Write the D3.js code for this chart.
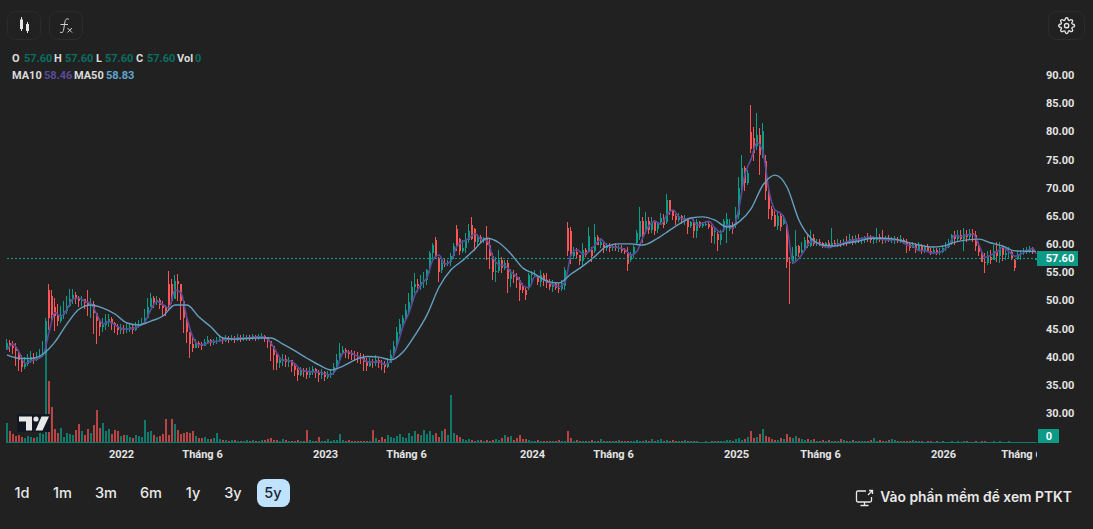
<!DOCTYPE html>
<html lang="vi">
<head>
<meta charset="utf-8">
<title>Biểu đồ giá</title>
<script src="https://cdn.jsdelivr.net/npm/d3@7/dist/d3.min.js"></script>
<style>
  html, body { margin: 0; padding: 0; background: #212121; overflow: hidden; }
  svg { display: block; font-family: Inter, "Noto Sans", sans-serif; }
  .axis text { fill: #e4e4e4; font-size: 11px; font-weight: 700; font-family: Roboto, sans-serif; }
</style>
</head>
<body>
<svg id="chart" width="1093" height="529"></svg>
<script>
// Sessions sampled across five years, oldest first.
const opens = [
  41.8,42.6,42.0,41.8,41.0,39.6,38.4,38.9,39.5,40.2,39.6,39.9,40.4,40.8,52.0,51.0,49.0,47.4,46.5,47.6,
  48.2,49.2,50.5,51.2,50.6,50.0,50.4,49.7,49.4,49.6,48.0,46.5,45.5,45.8,46.5,46.8,46.2,45.6,45.0,45.2,
  45.0,45.2,45.4,45.0,45.6,45.8,46.2,47.0,49.0,50.6,49.8,50.2,49.4,48.8,53.0,53.0,50.4,53.6,53.0,50.0,
  47.0,44.5,42.5,41.8,42.6,42.4,42.0,42.8,43.2,42.6,42.8,43.0,43.4,43.0,43.4,43.2,43.5,43.2,43.6,43.4,
  43.5,43.6,43.5,43.8,43.5,43.7,43.9,43.6,43.0,42.0,40.4,39.0,39.5,39.8,39.2,39.5,38.6,37.8,37.0,37.8,
  37.4,37.0,37.6,37.9,37.2,36.9,37.4,36.6,37.0,37.2,38.4,39.6,40.9,41.3,41.0,40.7,40.5,40.3,40.1,39.9,
  39.3,38.6,39.2,39.0,39.6,39.0,38.8,38.4,39.0,40.5,42.0,44.5,46.0,47.0,48.5,49.8,52.5,53.0,52.8,53.4,
  53.8,56.0,58.6,60.8,57.6,55.6,56.8,56.6,56.9,58.1,62.8,61.0,59.0,59.4,60.8,63.6,62.8,60.6,61.4,60.8,
  61.2,60.0,58.0,55.2,55.4,57.4,56.0,56.8,54.0,54.8,54.4,53.8,52.6,52.0,52.4,54.6,54.8,54.4,53.4,54.6,
  53.8,53.2,52.6,53.0,52.4,52.2,52.8,63.0,62.4,58.0,58.8,58.2,57.2,59.2,58.8,59.2,59.0,61.4,60.0,60.0,
  59.4,59.8,59.4,59.8,59.4,59.4,59.0,58.8,57.4,58.2,60.4,61.4,64.2,62.8,64.2,62.6,64.0,62.8,64.0,64.8,
  64.0,68.0,66.0,65.2,64.4,65.2,64.4,64.6,63.4,64.0,62.4,64.0,63.4,63.8,63.8,63.2,62.4,62.0,60.8,62.6,
  63.2,62.8,63.6,63.6,65.4,70.2,73.6,71.0,80.0,79.0,77.6,79.6,76.0,75.0,69.6,66.4,65.4,63.4,65.2,63.8,
  63.6,57.0,57.0,58.0,59.8,58.6,59.2,60.8,59.8,61.2,60.2,60.6,60.4,59.8,60.4,59.8,60.4,59.9,60.4,60.2,
  60.6,60.4,61.0,60.6,61.2,60.8,61.0,61.4,61.2,60.8,60.8,61.4,61.2,61.0,61.2,60.8,60.8,61.0,60.8,60.9,
  60.6,60.2,59.4,60.0,59.2,59.8,59.0,59.8,59.0,58.6,59.2,58.6,58.8,59.4,59.6,60.4,61.8,61.0,61.8,61.0,
  62.0,61.4,62.2,61.8,59.8,58.8,57.0,56.8,57.8,57.4,59.0,58.0,59.6,58.2,58.6,58.8,57.4,57.6,58.4,58.6,
  58.8,59.0,59.2,57.6
];
const highs = [
  43.4,43.2,43.0,42.6,41.4,40.4,40.2,40.6,41.2,40.8,41.0,41.6,43.0,47.0,53.0,52.0,50.6,49.6,49.2,50.0,
  51.0,52.2,52.2,51.6,51.0,51.0,50.4,52.0,50.6,50.0,47.4,46.8,47.0,47.8,47.8,47.2,46.4,46.0,46.0,45.8,
  46.0,46.2,46.0,46.4,46.6,47.0,48.6,50.6,51.4,51.0,51.0,50.6,50.0,49.4,55.4,54.0,54.6,54.8,52.6,48.6,
  47.0,44.6,43.6,43.4,43.0,42.8,43.4,43.8,43.4,43.4,43.6,44.0,43.6,44.0,43.8,44.0,43.8,44.2,44.0,44.2,
  44.0,44.0,44.2,44.0,44.2,44.4,44.0,43.6,43.0,42.0,40.6,40.2,40.6,40.4,40.2,39.4,38.8,38.2,38.4,38.2,
  38.2,38.4,38.6,38.2,37.8,38.0,37.6,37.6,38.0,39.0,40.6,42.6,42.0,41.8,41.4,41.4,41.2,41.0,40.8,40.6,
  40.0,40.0,39.8,40.4,40.0,39.6,39.4,40.0,41.4,43.0,45.4,46.8,47.6,49.6,51.4,53.6,55.0,54.0,54.6,55.2,
  55.8,59.0,60.3,61.5,57.8,57.3,57.6,57.3,58.5,60.3,63.5,61.2,60.9,62.1,63.8,65.0,63.0,62.0,61.8,61.5,
  63.3,61.2,58.5,57.9,59.1,57.9,57.3,57.3,55.8,55.6,55.0,54.4,53.2,52.3,55.0,55.3,55.6,54.7,55.5,55.0,
  55.0,54.0,53.8,53.4,53.2,53.8,56.1,64.0,63.2,59.7,59.4,58.0,60.3,59.4,63.2,59.7,63.8,61.8,61.2,60.3,
  60.4,60.3,60.2,60.3,60.0,60.0,59.5,59.7,58.8,60.0,62.6,66.8,65.0,65.9,65.0,65.0,64.4,64.0,65.6,65.5,
  69.0,67.7,66.2,65.5,65.6,65.3,65.3,64.7,64.2,64.6,64.7,64.2,64.0,64.2,64.0,63.5,63.0,62.3,62.6,64.7,
  65.6,64.6,64.0,66.8,72.0,76.0,74.0,73.3,84.8,81.0,83.4,80.7,81.7,76.0,70.3,67.0,66.0,65.8,65.5,65.3,
  64.0,57.9,59.6,62.6,60.0,60.5,61.4,61.8,62.6,62.0,61.0,61.0,60.6,60.6,60.8,63.0,60.8,61.0,60.8,61.0,
  61.6,62.0,61.6,61.8,62.0,61.4,61.6,62.2,61.8,61.6,63.1,62.0,62.6,61.6,61.8,61.4,61.6,61.4,61.8,61.2,
  61.0,60.4,60.6,60.4,60.6,60.2,60.0,60.2,59.4,59.6,59.4,59.4,60.0,60.6,61.0,62.0,62.4,62.6,62.6,63.1,
  62.6,62.8,62.8,62.4,60.6,59.0,58.5,59.0,59.2,60.0,60.6,60.6,60.0,59.4,59.6,59.0,57.6,59.0,59.2,59.4,
  59.6,59.8,59.6,57.6
];
const lows = [
  41.4,41.0,40.6,38.6,37.6,37.4,38.0,38.6,39.0,38.8,39.4,39.8,40.2,40.6,45.0,46.5,44.8,45.6,46.2,46.8,
  47.8,49.0,49.6,49.6,49.0,49.2,48.6,47.4,47.0,44.2,42.4,43.8,44.6,45.0,45.4,45.0,44.4,44.0,44.2,44.2,
  44.4,44.6,44.2,44.8,45.2,45.6,46.2,47.4,49.2,48.8,49.4,48.6,47.4,47.4,48.2,49.6,50.4,50.0,46.6,44.4,
  42.6,40.0,41.0,41.8,41.8,41.4,42.0,42.4,42.0,42.2,42.4,42.8,42.4,42.8,42.6,43.0,42.6,43.0,42.8,43.0,
  43.0,43.0,43.2,43.0,43.2,43.4,42.8,41.8,39.4,37.8,37.8,38.2,38.6,38.4,38.4,37.4,36.8,35.8,36.8,36.6,
  36.2,36.4,37.0,36.4,35.6,36.2,35.8,36.2,36.4,37.0,38.2,39.6,40.4,40.0,39.8,39.6,39.4,39.0,38.8,37.6,
  37.6,38.4,38.2,38.6,38.2,37.8,37.2,38.2,39.0,40.4,42.0,44.2,45.6,46.6,47.8,49.0,51.4,51.6,52.0,52.4,
  52.9,55.0,57.3,57.6,53.5,55.0,56.1,56.2,56.2,57.6,59.0,58.2,58.5,58.5,60.3,60.9,59.0,59.7,60.3,60.3,
  57.3,55.8,53.8,53.5,55.0,55.0,55.6,51.4,52.6,53.2,52.3,50.1,51.4,50.3,52.0,52.9,54.4,52.9,52.6,52.8,
  52.4,52.0,51.6,52.0,51.4,51.8,52.0,58.0,56.7,57.6,57.6,56.4,56.4,57.9,58.5,57.0,58.5,60.0,59.4,58.5,
  59.0,58.8,59.0,58.9,58.7,58.5,58.4,55.3,56.9,57.7,60.0,60.9,60.3,62.0,62.0,62.1,61.8,62.2,63.8,63.0,
  63.8,65.3,64.4,63.5,64.1,63.8,63.5,62.0,63.0,61.2,61.2,63.0,63.0,63.4,62.8,60.3,60.2,59.0,60.0,62.3,
  60.3,62.4,62.0,63.0,64.6,69.0,69.5,70.6,76.3,75.0,76.9,72.4,75.4,68.0,64.7,64.5,63.2,62.6,62.4,63.5,
  56.0,49.6,56.7,57.2,57.9,58.5,59.0,59.4,59.7,59.8,59.8,59.8,59.4,59.4,59.4,59.4,59.6,59.6,59.6,59.8,
  59.8,60.2,60.0,60.2,60.4,60.2,60.4,60.6,60.4,60.2,60.4,60.6,60.2,60.4,60.6,60.4,60.2,60.4,60.4,60.2,
  58.6,59.0,59.4,58.6,59.0,58.4,58.6,58.8,58.2,58.4,58.2,58.2,58.6,59.0,59.4,60.0,60.0,60.6,60.8,59.0,
  60.6,61.0,60.6,59.0,58.0,57.0,55.0,56.4,56.6,57.4,57.0,56.8,57.2,57.4,57.6,57.4,55.3,57.4,57.4,58.2,
  58.4,58.6,58.4,57.6
];
const closes = [
  42.6,42.0,41.8,41.2,39.6,38.4,38.9,39.5,40.1,39.6,39.9,40.4,40.8,46.5,47.0,47.5,47.4,46.5,47.6,48.2,
  49.2,50.5,51.2,50.6,50.0,50.4,49.7,49.4,49.6,48.0,46.5,45.5,45.8,46.5,46.8,46.2,45.6,45.0,45.2,45.0,
  45.2,45.4,45.0,45.6,45.8,46.2,47.0,49.0,50.6,49.8,50.2,49.4,48.8,48.2,49.4,50.0,53.6,53.0,50.0,47.0,
  44.5,42.5,41.8,42.6,42.4,42.0,42.8,43.2,42.6,42.8,43.0,43.4,43.0,43.4,43.2,43.5,43.2,43.6,43.4,43.5,
  43.6,43.5,43.8,43.5,43.7,43.9,43.6,43.0,42.0,40.4,39.0,39.5,39.8,39.2,39.5,38.6,37.8,37.0,37.8,37.4,
  37.0,37.6,37.9,37.2,36.9,37.4,36.6,37.0,37.2,38.4,39.6,40.9,41.3,41.0,40.7,40.5,40.3,40.1,39.9,39.3,
  38.6,39.2,39.0,39.6,39.0,38.8,38.4,39.0,40.5,42.0,44.5,46.0,47.0,48.5,49.8,52.5,53.0,52.8,53.4,53.8,
  55.6,58.6,60.0,58.0,55.2,56.8,56.4,57.0,58.1,59.8,59.8,59.0,59.4,60.8,62.4,61.0,60.6,61.4,60.8,61.2,
  60.0,58.0,55.2,55.4,57.4,56.0,56.8,54.0,54.8,54.4,53.8,52.0,52.0,51.2,54.6,54.8,54.8,53.4,54.6,53.8,
  53.2,52.6,53.0,52.4,52.2,53.2,55.6,59.0,58.0,58.8,58.2,57.2,59.2,58.2,61.6,58.0,61.4,60.0,60.6,59.4,
  59.8,59.4,59.8,59.4,59.4,59.0,58.8,56.6,58.2,59.6,62.2,64.2,61.6,64.2,62.6,64.0,62.4,63.8,64.8,63.6,
  68.0,66.0,65.2,64.4,65.2,64.4,64.6,63.2,64.0,62.4,64.0,63.4,63.8,63.8,63.2,61.6,62.4,60.8,62.0,64.2,
  64.6,63.6,62.8,65.4,70.2,73.6,71.0,72.8,77.0,76.4,79.6,76.0,80.2,69.6,66.4,65.2,63.4,65.2,63.2,64.8,
  57.0,56.8,58.0,59.8,58.6,59.2,60.8,59.8,61.2,60.2,60.6,60.4,59.8,60.4,59.8,60.4,59.9,60.4,60.2,60.6,
  60.4,61.0,60.6,61.2,60.8,61.0,61.4,61.2,60.8,61.2,61.4,61.2,61.0,61.2,60.8,61.0,61.0,60.8,61.0,60.6,
  60.2,59.4,60.0,59.2,59.8,59.0,59.8,59.0,58.6,59.2,58.6,58.8,59.4,59.6,60.4,61.8,61.0,61.8,61.0,62.0,
  61.4,62.2,61.8,59.8,58.8,57.0,56.8,57.8,57.4,59.0,58.0,59.6,58.2,58.6,58.8,57.6,56.0,58.4,58.6,58.8,
  59.0,59.2,58.8,57.6
];
// Traded volume per session, in hundred-thousand shares.
const volumes = [
  20,12,9,7,8,6,5,7,6,5,6,10,9,92,62,36,14,10,15,6,
  10,9,8,13,19,12,8,14,10,18,33,15,20,12,14,9,13,12,7,8,
  8,6,5,8,7,6,23,11,12,8,6,7,9,24,8,24,19,13,9,10,
  11,10,12,7,5,5,6,4,4,5,10,4,3,3,2,3,3,2,2,2,
  3,2,3,2,2,3,3,4,5,3,3,2,4,3,2,2,2,3,2,2,
  13,3,2,2,6,2,2,4,2,3,3,9,3,2,3,2,2,2,2,2,
  2,2,13,5,3,6,4,8,6,5,7,9,6,5,10,7,12,9,8,13,
  9,12,8,10,6,12,14,8,48,10,8,6,4,3,4,3,2,3,3,2,
  3,2,3,4,3,5,8,6,7,3,5,8,4,4,3,2,2,3,2,2,
  2,2,2,2,3,2,2,12,5,2,3,2,2,2,2,3,2,2,4,2,
  2,2,2,2,3,2,2,2,2,2,3,2,2,3,2,4,2,3,4,2,
  3,2,3,2,2,2,3,2,2,2,2,1,1,2,1,2,2,2,2,2,
  3,3,2,4,5,3,4,6,12,5,6,9,14,7,6,4,3,3,5,4,
  9,6,5,7,5,4,3,4,3,4,2,2,3,2,3,2,2,2,4,3,
  2,2,3,2,2,2,2,2,3,5,2,3,2,2,3,4,3,2,2,2,
  2,2,3,2,2,2,1,2,2,1,2,1,2,1,1,2,1,2,1,2,
  2,1,1,2,1,2,2,1,1,2,1,2,1,1,2,1,1,1,1,1,
  1,1,1,0
];
// MA10 readings, taken every second session plus the latest one.
const ma10 = [
  41.4,42.4,41.0,39.0,39.4,39.8,40.4,44.5,48.0,47.4,
  48.6,50.4,50.6,50.0,49.6,47.6,46.0,46.4,45.8,45.2,
  45.1,45.2,45.6,46.4,48.6,50.0,49.4,48.8,52.0,51.5,
  47.0,43.6,42.3,42.4,42.8,42.9,43.1,43.3,43.4,43.5,
  43.5,43.6,43.7,43.6,42.6,40.8,39.5,39.5,38.9,37.8,
  37.6,37.5,37.4,37.1,37.0,38.2,40.8,41.0,40.5,40.0,
  39.3,39.2,39.3,38.8,39.4,42.0,45.6,48.0,51.2,53.0,
  54.2,57.4,58.2,56.6,57.2,59.8,60.6,61.2,62.0,61.0,
  60.8,57.8,56.5,56.3,55.2,54.4,52.8,52.4,54.4,54.2,
  53.5,53.0,52.6,53.4,58.2,59.2,58.4,58.8,60.0,61.0,
  59.9,59.7,59.5,59.2,58.2,58.9,61.4,63.4,64.2,63.7,
  65.4,66.2,65.0,64.6,64.8,63.5,63.9,64.2,63.0,62.2,
  63.6,63.0,66.6,72.6,75.2,78.2,76.5,69.6,66.2,65.6,
  63.4,56.8,57.6,59.2,60.6,60.4,59.8,59.5,60.0,60.2,
  60.6,60.9,61.0,61.3,61.4,61.2,61.0,60.9,60.9,60.7,
  60.0,59.8,59.0,59.0,58.6,58.6,59.0,60.0,61.7,61.5,
  61.8,61.9,60.0,57.8,58.2,58.8,59.6,58.8,58.0,58.4,
  59.0,59.4,58.46
];
// MA50 readings, taken every fourth session plus the latest one.
const ma50 = [
  40.5,39.9,39.85,40.65,42.8,46.0,48.6,49.35,48.8,47.75,
  46.15,45.8,46.5,47.4,49.35,49.35,47.2,45.45,43.5,43.3,
  43.4,43.5,43.5,42.4,41.2,39.9,38.7,37.8,38.5,39.6,
  40.2,40.1,39.6,41.0,44.0,47.6,52.5,55.6,57.3,59.3,
  61.2,60.4,58.4,55.9,54.85,53.6,53.25,54.85,56.3,58.0,
  59.8,60.2,60.2,60.0,60.9,62.3,63.7,64.8,65.0,64.4,
  63.2,64.1,66.4,70.65,72.4,70.3,64.4,61.2,60.0,59.8,
  60.35,60.7,61.2,61.2,61.05,60.5,60.0,59.65,59.8,60.5,
  60.9,61.05,60.35,59.8,58.95,58.9,58.83
];
const priceTicks = [90, 85, 80, 75, 70, 65, 60, 55, 50, 45, 40, 35, 30];
const timeTickBars = [38, 65, 106, 133, 175, 202, 243, 271, 312, 338];
const timeTickLabels = ["2022", "Tháng 6", "2023", "Tháng 6", "2024", "Tháng 6", "2025", "Tháng 6", "2026", "Tháng 6"];
const rangeLabels = ["1d", "1m", "3m", "6m", "1y", "3y", "5y"];
const lastPrice = 57.60;

const UP = "#089e88", DOWN = "#ff5558", UP_VOL = "#0d7a6b", DOWN_VOL = "#b84545";
const lastBar = closes.length - 1;

const svg = d3.select("#chart");
const x = d3.scaleLinear().domain([0, lastBar]).range([7, 1036]);
const y = d3.scaleLinear().domain([30, 90]).range([414, 76]);
const yVol = d3.scaleLinear().domain([0, 100]).range([442.5, 342.5]);

const defs = svg.append("defs");
defs.append("clipPath").attr("id", "pane").append("rect")
  .attr("x", 0).attr("y", 0).attr("width", 1037).attr("height", 529);

const pane = svg.append("g").attr("clip-path", "url(#pane)");
const bars = d3.range(closes.length);

// Volume histogram along the bottom of the pane.
pane.append("g").attr("shape-rendering", "crispEdges").selectAll("rect")
  .data(bars).join("rect")
  .attr("x", i => Math.round(x(i)) - 1)
  .attr("width", 2)
  .attr("y", i => yVol(volumes[i]))
  .attr("height", i => yVol(0) - yVol(volumes[i]))
  .attr("fill", i => closes[i] >= opens[i] ? UP_VOL : DOWN_VOL);

// Baseline under the histogram
pane.append("line").attr("x1", 7).attr("x2", 1037).attr("y1", 442.5).attr("y2", 442.5)
  .attr("stroke", "#0d7a6b").attr("stroke-width", 1);

// Logo badge in the lower-left corner of the pane.
const logo = svg.append("g").attr("transform", "translate(17,414)");
logo.append("rect").attr("width", 33).attr("height", 18).attr("fill", "#131722");
logo.append("path").attr("fill", "#e8e8e8")
  .attr("d", "M2 2.5H15V16.5H9V7.5H2Z M24.5 2.5H32L25.5 16.5H18.5Z");
logo.append("circle").attr("cx", 19).attr("cy", 5).attr("r", 2.6).attr("fill", "#e8e8e8");

// Wicks and candle bodies.
const candles = pane.append("g").attr("shape-rendering", "crispEdges");
candles.selectAll("line").data(bars).join("line")
  .attr("x1", i => Math.round(x(i)) - 0.5)
  .attr("x2", i => Math.round(x(i)) - 0.5)
  .attr("y1", i => y(highs[i]))
  .attr("y2", i => y(lows[i]))
  .attr("stroke", i => closes[i] >= opens[i] ? UP : DOWN);
candles.selectAll("rect").data(bars).join("rect")
  .attr("x", i => Math.round(x(i)) - 1)
  .attr("width", 2)
  .attr("y", i => y(Math.max(opens[i], closes[i])))
  .attr("height", i => Math.max(1, Math.abs(y(opens[i]) - y(closes[i]))))
  .attr("fill", i => closes[i] >= opens[i] ? UP : DOWN);

// Moving averages.
const maIndex = step => d3.range(0, closes.length, step).concat(lastBar);
const maLine = d3.line().x(d => x(d[0])).y(d => y(d[1])).curve(d3.curveMonotoneX);
const drawMa = (values, step, colour, width) => pane.append("path")
  .datum(d3.zip(maIndex(step), values))
  .attr("d", maLine).attr("fill", "none")
  .attr("stroke", colour).attr("stroke-width", width);
drawMa(ma10, 2, "#5a4a9a", 1.6);
drawMa(ma50, 4, "#659fc1", 1.4);

// Last-price guide.
pane.append("line").attr("x1", 7).attr("x2", 1037)
  .attr("y1", Math.floor(y(lastPrice)) + 0.5).attr("y2", Math.floor(y(lastPrice)) + 0.5)
  .attr("stroke", "#0ba08c").attr("stroke-width", 1).attr("stroke-dasharray", "2,2")
  .attr("shape-rendering", "crispEdges");

// Price axis on the right.
const yAxis = d3.axisRight(y).tickValues(priceTicks).tickSize(0).tickPadding(0).tickFormat(d3.format(".2f"));
svg.append("g").attr("class", "axis").attr("transform", "translate(1046,-1)").call(yAxis)
  .call(g => g.select(".domain").remove());

// Time axis below the pane, clipped at the pane edge.
const labelFor = new Map(d3.zip(timeTickBars, timeTickLabels));
const xAxis = d3.axisBottom(x).tickValues(timeTickBars).tickSize(0).tickPadding(0).tickFormat(d => labelFor.get(d));
svg.append("g").attr("clip-path", "url(#pane)").append("g").attr("class", "axis")
  .attr("transform", "translate(0,450.5)").call(xAxis)
  .call(g => g.select(".domain").remove());

// Value flags on the axis.
svg.append("rect").attr("x", 1037).attr("y", Math.floor(y(lastPrice)) - 7).attr("width", 41).attr("height", 15).attr("fill", "#0a9a86");
svg.append("text").attr("x", 1060).attr("y", y(lastPrice)).attr("dy", "0.36em").attr("text-anchor", "middle")
  .attr("fill", "#fff").attr("font-family", "Roboto, sans-serif").attr("font-size", 11).attr("font-weight", 700).text(d3.format(".2f")(lastPrice));
svg.append("rect").attr("x", 1038).attr("y", 429).attr("width", 21).attr("height", 14).attr("fill", "#0a9a86");
svg.append("text").attr("x", 1049).attr("y", 436).attr("dy", "0.36em").attr("text-anchor", "middle")
  .attr("fill", "#fff").attr("font-family", "Roboto, sans-serif").attr("font-size", 11).attr("font-weight", 700).text("0");

// OHLC and moving-average readout.
const readout = (xp, yp, str, fill) => svg.append("text").attr("x", xp).attr("y", yp)
  .attr("font-family", "Roboto, sans-serif").attr("font-size", 11).attr("font-weight", 700).attr("fill", fill).text(str);
const LBL = "#dcdcdc", VAL = "#0a6e62";
[[12, "O", LBL], [24, "57.60", VAL], [54, "H", LBL], [65, "57.60", VAL], [96, "L", LBL], [105, "57.60", VAL],
 [136, "C", LBL], [147, "57.60", VAL], [177, "Vol", LBL], [195, "0", VAL]]
  .forEach(r => readout(r[0], 62, r[1], r[2]));
[[12, "MA10", LBL], [44, "58.46", "#5a4a9a"], [74, "MA50", LBL], [106, "58.83", "#62a5cc"]]
  .forEach(r => readout(r[0], 79, r[1], r[2]));

// Toolbar buttons.
const btn = (xp, w) => svg.append("rect").attr("x", xp + 0.5).attr("y", 11.5).attr("width", w).attr("height", 28)
  .attr("rx", 8).attr("fill", "none").attr("stroke", "#2c2c2c");
btn(7, 33); btn(49, 33); btn(1048, 36);

const ic = svg.append("g").attr("fill", "#e4e4e4").attr("stroke", "#e4e4e4").attr("stroke-width", 1);
ic.append("rect").attr("x", 20).attr("y", 19.5).attr("width", 3).attr("height", 9.5).attr("stroke", "none");
ic.append("line").attr("x1", 21.5).attr("x2", 21.5).attr("y1", 17).attr("y2", 31);
ic.append("rect").attr("x", 26).attr("y", 24).attr("width", 3).attr("height", 7).attr("stroke", "none");
ic.append("line").attr("x1", 27.5).attr("x2", 27.5).attr("y1", 22).attr("y2", 33);

svg.append("path").attr("fill", "none").attr("stroke", "#d0d0d0").attr("stroke-width", 1)
  .attr("d", "M69 19.5c-2-1.5-3.5-.5-4 2l-1.5 9c-.4 2-2 2.6-3.5 1.6 M60.5 24.5H68");
svg.append("path").attr("fill", "none").attr("stroke", "#d0d0d0").attr("stroke-width", 1)
  .attr("d", "M67.5 28l4.5 4.5 M72 28l-4.5 4.5");

const gear = svg.append("g").attr("transform", "translate(1058,17) scale(0.72)")
  .attr("fill", "none").attr("stroke", "#e4e4e4").attr("stroke-width", 1.9);
gear.append("circle").attr("cx", 12).attr("cy", 12).attr("r", 3);
gear.append("path").attr("d", "M19.4 15a1.65 1.65 0 0 0 .33 1.82l.06.06a2 2 0 0 1 0 2.83 2 2 0 0 1-2.83 0l-.06-.06a1.65 1.65 0 0 0-1.82-.33 1.65 1.65 0 0 0-1 1.51V21a2 2 0 0 1-2 2 2 2 0 0 1-2-2v-.09A1.65 1.65 0 0 0 9 19.4a1.65 1.65 0 0 0-1.82.33l-.06.06a2 2 0 0 1-2.83 0 2 2 0 0 1 0-2.83l.06-.06a1.65 1.65 0 0 0 .33-1.82 1.65 1.65 0 0 0-1.51-1H3a2 2 0 0 1-2-2 2 2 0 0 1 2-2h.09A1.65 1.65 0 0 0 4.6 9a1.65 1.65 0 0 0-.33-1.82l-.06-.06a2 2 0 0 1 0-2.83 2 2 0 0 1 2.83 0l.06.06a1.65 1.65 0 0 0 1.82.33H9a1.65 1.65 0 0 0 1-1.51V3a2 2 0 0 1 2-2 2 2 0 0 1 2 2v.09a1.65 1.65 0 0 0 1 1.51 1.65 1.65 0 0 0 1.82-.33l.06-.06a2 2 0 0 1 2.83 0 2 2 0 0 1 0 2.83l-.06.06a1.65 1.65 0 0 0-.33 1.82V9a1.65 1.65 0 0 0 1.51 1H21a2 2 0 0 1 2 2 2 2 0 0 1-2 2h-.09a1.65 1.65 0 0 0-1.51 1z");

// Range selector.
const rangeCentres = [22, 62.5, 106, 151, 193, 233, 273];
svg.append("rect").attr("x", 257).attr("y", 479).attr("width", 33).attr("height", 28).attr("rx", 8).attr("fill", "#bfe2ff");
svg.append("g").selectAll("text").data(rangeLabels).join("text")
  .attr("x", (d, i) => rangeCentres[i]).attr("y", 493).attr("dy", "0.36em")
  .attr("text-anchor", "middle").attr("font-size", 14.5).attr("font-weight", 500)
  .attr("fill", d => d === "5y" ? "#1d2530" : "#e8e8e8").text(d => d);

// Link to the full analysis tool.
const mon = svg.append("g").attr("fill", "none").attr("stroke", "#e8e8e8").attr("stroke-width", 1.3);
mon.append("path").attr("d", "M866 491H858a1.5 1.5 0 0 0-1.5 1.5v8a1.5 1.5 0 0 0 1.5 1.5H870a1.5 1.5 0 0 0 1.5-1.5V497");
mon.append("path").attr("d", "M864.5 502v3 M860.5 505.5H868.5 M868 495l4.5-4.5 M869 490.5H872.5V494");
svg.append("text").attr("x", 1072).attr("y", 497).attr("dy", "0.36em").attr("text-anchor", "end")
  .attr("font-size", 13.85).attr("font-weight", 600).attr("fill", "#e8e8e8").text("Vào phần mềm để xem PTKT");
</script>
</body>
</html>
